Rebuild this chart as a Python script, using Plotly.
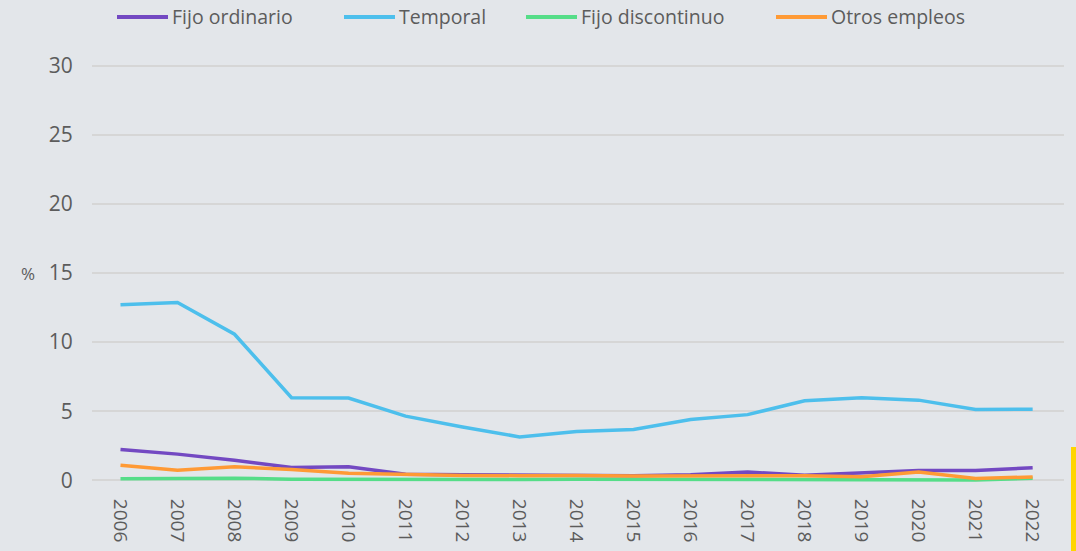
import plotly.graph_objects as go

years = list(range(2006, 2023))
series_names = ["Fijo ordinario", "Temporal", "Fijo discontinuo", "Otros empleos"]
fijo_ordinario = [2.22, 1.89, 1.45, 0.92, 0.97, 0.44, 0.40, 0.38, 0.36, 0.33, 0.40, 0.60, 0.36, 0.53, 0.70, 0.70, 0.90]
temporal = [12.7, 12.87, 10.57, 5.97, 5.95, 4.64, 3.85, 3.14, 3.52, 3.67, 4.40, 4.75, 5.75, 5.98, 5.80, 5.13, 5.14]
fijo_discontinuo = [0.10, 0.10, 0.15, 0.08, 0.06, 0.05, 0.05, 0.05, 0.07, 0.06, 0.06, 0.06, 0.06, 0.06, 0.05, 0.02, 0.15]
otros_empleos = [1.09, 0.73, 0.97, 0.78, 0.50, 0.41, 0.35, 0.33, 0.35, 0.30, 0.30, 0.30, 0.33, 0.25, 0.60, 0.12, 0.24]
y_ticks = [0, 5, 10, 15, 20, 25, 30]
colors = ["#7349c2", "#4dbfec", "#55dd88", "#ff9a35"]

values = [fijo_ordinario, temporal, fijo_discontinuo, otros_empleos]
FONT = "Open Sans"
TXT = "#5c5c5c"
BG = "#e3e6ea"

fig = go.Figure()
for name, vals, col in zip(series_names, values, colors):
    fig.add_trace(go.Scatter(x=years, y=vals, name=name, mode="lines",
                             line=dict(color=col, width=3.5), showlegend=False))

# plot area spans px 92..1064 horizontally, 59..483 vertically
L, R, T, B = 92, 1064, 59, 483
def px(x):
    return (x - L) / (R - L)
def py(y):
    return (B - y) / (B - T)

# custom legend
legend_starts = [117, 344, 526, 776]
for name, col, xs in zip(series_names, colors, legend_starts):
    fig.add_shape(type="line", xref="paper", yref="paper",
                  x0=px(xs), x1=px(xs + 51), y0=py(17), y1=py(17),
                  line=dict(color=col, width=4))
    fig.add_annotation(xref="paper", yref="paper", x=px(xs + 53), y=py(16),
                       text=name, showarrow=False, xanchor="left", yanchor="middle",
                       font=dict(family=FONT, size=19.5, color=TXT))

# % label
fig.add_annotation(xref="paper", yref="y", x=px(28), y=15, text="%", showarrow=False,
                   xanchor="center", yanchor="middle", font=dict(family=FONT, size=17, color=TXT))

# yellow accent bar
fig.add_shape(type="rect", xref="paper", yref="paper", x0=px(1071), x1=px(1077),
              y0=py(552), y1=py(447), fillcolor="#ffd500", line=dict(width=0))

fig.update_layout(
    width=1076, height=551,
    margin=dict(l=L, r=1076 - R, t=T, b=551 - B, pad=0, autoexpand=False),
    paper_bgcolor=BG, plot_bgcolor=BG,
    font=dict(family=FONT, size=20, color=TXT),
    showlegend=False,
)
fig.update_xaxes(range=[2005.5, 2022.55], tickvals=years, ticktext=[str(y) for y in years],
                 tickangle=90, showgrid=False, zeroline=False, showline=False, automargin=False,
                 ticks="outside", ticklen=11, tickcolor="rgba(0,0,0,0)",
                 tickfont=dict(family=FONT, size=19, color=TXT))
fig.update_yaxes(range=[-0.2, 30.5], tickvals=y_ticks, showgrid=True, gridcolor="#d6d6d6",
                 gridwidth=1.5, zeroline=False, showline=False, automargin=False,
                 ticks="outside", ticklen=14, tickcolor="rgba(0,0,0,0)",
                 tickfont=dict(family=FONT, size=21, color=TXT))

fig.write_html("out.html", config={"displayModeBar": False},
               post_script="document.body.style.margin='0';document.body.style.background='%s';" % BG)
